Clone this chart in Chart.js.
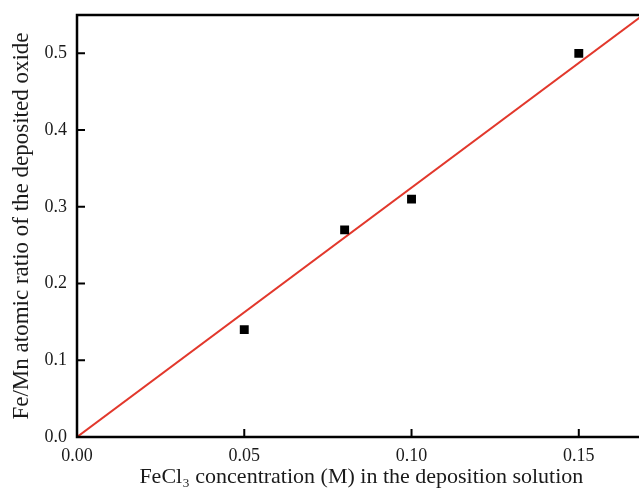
<!DOCTYPE html>
<html>
<head>
<meta charset="utf-8">
<script src="https://cdn.jsdelivr.net/npm/chart.js@4/dist/chart.umd.min.js"></script>
<style>
  html, body { margin: 0; padding: 0; background: #fff; overflow: hidden; }
  #wrap { position: absolute; left: 0; top: 0; width: 652px; height: 495px; }
</style>
</head>
<body>
<div id="wrap"><canvas id="chart"></canvas></div>
<script>
// measured points
const feCl3Conc = [0.05, 0.08, 0.10, 0.15];
const feMnRatio = [0.14, 0.27, 0.31, 0.50];

// linear fit through origin
const fitConc = [0, 0.17];
const fitRatio = [0, 0.5525];

const xTickValues = [0, 0.05, 0.10, 0.15];
const yTickValues = [0, 0.1, 0.2, 0.3, 0.4, 0.5];

const xTitle = 'FeCl\u2083 concentration (M) in the deposition solution';
const yTitle = 'Fe/Mn atomic ratio of the deposited oxide';

const serif = "'Liberation Serif', 'Times New Roman', serif";

// black frame (top, left, bottom) with inward ticks
const framePlugin = {
  id: 'frame',
  afterDraw(chart) {
    const { ctx, chartArea: a, scales } = chart;
    ctx.save();
    ctx.strokeStyle = '#000';
    ctx.lineWidth = 2.5;
    ctx.beginPath();
    ctx.moveTo(a.right + 2, a.top);
    ctx.lineTo(a.left, a.top);
    ctx.lineTo(a.left, a.bottom);
    ctx.lineTo(a.right + 2, a.bottom);
    ctx.stroke();
    ctx.lineWidth = 2;
    ctx.beginPath();
    yTickValues.forEach((v) => {
      const y = scales.y.getPixelForValue(v);
      ctx.moveTo(a.left, y);
      ctx.lineTo(a.left + 8, y);
    });
    xTickValues.forEach((v) => {
      const x = scales.x.getPixelForValue(v);
      ctx.moveTo(x, a.bottom);
      ctx.lineTo(x, a.bottom - 8);
    });
    ctx.stroke();
    ctx.restore();
  },
};

new Chart(document.getElementById('chart'), {
  type: 'scatter',
  data: {
    datasets: [
      {
        label: 'fit',
        data: fitConc.map((x, i) => ({ x, y: fitRatio[i] })),
        showLine: true,
        borderColor: '#e2382c',
        borderWidth: 2,
        pointRadius: 0,
        order: 2,
      },
      {
        label: 'Fe/Mn',
        data: feCl3Conc.map((x, i) => ({ x, y: feMnRatio[i] })),
        pointStyle: 'rect',
        pointRadius: 6.3,
        pointBorderWidth: 0,
        backgroundColor: '#000',
        borderColor: '#000',
        order: 1,
      },
    ],
  },
  options: {
    responsive: true,
    maintainAspectRatio: false,
    animation: false,
    layout: { padding: { top: 15, right: 4, left: 0, bottom: 0 } },
    plugins: { legend: { display: false }, tooltip: { enabled: false } },
    scales: {
      x: {
        type: 'linear',
        min: 0,
        max: 0.17,
        afterBuildTicks: (s) => { s.ticks = xTickValues.map((value) => ({ value })); },
        afterFit: (s) => {
          s.height = 58;
          s.paddingLeft = 0;
          s.paddingRight = 0;
        },
        grid: { display: false, drawTicks: false },
        border: { display: false },
        ticks: {
          padding: 8,
          color: '#1a1a1a',
          font: { family: serif, size: 18 },
          callback: (v) => Number(v).toFixed(2),
        },
        title: {
          display: true,
          text: xTitle,
          color: '#1a1a1a',
          font: { family: serif, size: 22 },
          padding: { top: 0, bottom: 5 },
        },
      },
      y: {
        type: 'linear',
        min: 0,
        max: 0.55,
        afterBuildTicks: (s) => { s.ticks = yTickValues.map((value) => ({ value })); },
        afterFit: (s) => {
          s.width = 77;
          s.paddingTop = 0;
          s.paddingBottom = 0;
        },
        grid: { display: false, drawTicks: false },
        border: { display: false },
        ticks: {
          padding: 10,
          color: '#1a1a1a',
          font: { family: serif, size: 18 },
          callback: (v) => Number(v).toFixed(1),
        },
        title: {
          display: true,
          text: yTitle,
          color: '#1a1a1a',
          font: { family: serif, size: 23 },
          padding: { top: 8, bottom: 0 },
        },
      },
    },
  },
  plugins: [framePlugin],
});
</script>
</body>
</html>
